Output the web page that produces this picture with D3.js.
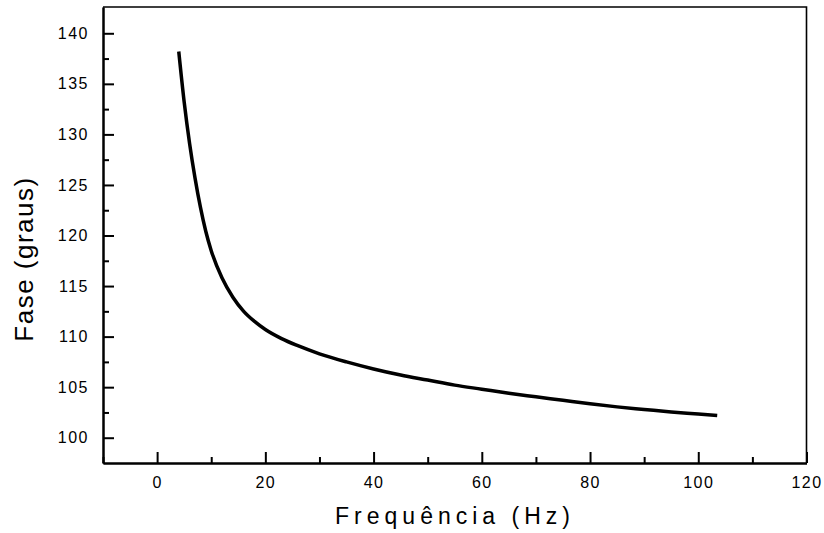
<!DOCTYPE html>
<html lang="pt">
<head>
<meta charset="utf-8">
<title>Fase x Frequencia</title>
<style type="text/css">
    body {
        margin: 0;
        background-color: #fff;
    }
    svg {
        display: block;
        background-color: white;
    }
    .axis text {
        font-family: Arial, "Liberation Sans", sans-serif;
        font-size: 16px;
        letter-spacing: 1.5px;
        fill: #000;
    }
    .axis path, .axis line {
        stroke: #000;
        stroke-width: 2px;
    }
    .axisLabel {
        font-family: Arial, "Liberation Sans", sans-serif;
        fill: #000;
    }
</style>
<script src="https://d3js.org/d3.v7.min.js"></script>
</head>
<body>
<div id="chart"></div>
<script>

// frequency (Hz) and phase (degrees)
var freq  = [4, 5, 6, 7, 8, 9, 10, 12, 14, 16, 18, 20, 23, 26, 30, 35, 40, 45, 50, 55,
             60, 65, 70, 75, 80, 85, 90, 95, 100, 103.5];
var phase = [138.2, 133.2, 129.1, 125.7, 122.8, 120.4, 118.5, 115.8, 113.9, 112.5, 111.5, 110.7,
             109.8, 109.1, 108.3, 107.5, 106.8, 106.2, 105.7, 105.2,
             104.8, 104.4, 104.05, 103.7, 103.35, 103.05, 102.8, 102.55, 102.35, 102.2];

var xMajor = [0, 20, 40, 60, 80, 100, 120];
var xMinor = [-10, 10, 30, 50, 70, 90, 110];
var yMajor = [100, 105, 110, 115, 120, 125, 130, 135, 140];
var yMinor = [102.5, 107.5, 112.5, 117.5, 122.5, 127.5, 132.5, 137.5];

var width = 824, height = 533;
var margin = { top: 7, right: 17.5, bottom: 70, left: 103 };

var svg = d3.select('#chart')
    .append('svg')
    .attr('width', width)
    .attr('height', height);

var xScale = d3.scaleLinear()
    .domain([-10, 120])
    .range([margin.left, width - margin.right]);

var yScale = d3.scaleLinear()
    .domain([97.5, 142.6])
    .range([height - margin.bottom, margin.top]);

// top and right frame
svg.append('path')
    .attr('d', 'M' + xScale(-10) + ',' + yScale(142.6) +
               'H' + xScale(120) + 'V' + yScale(97.5))
    .attr('fill', 'none')
    .attr('stroke', '#000')
    .attr('stroke-width', 1.6);

// minor ticks first, then major with labels
svg.append('g')
    .attr('class', 'axis')
    .attr('transform', 'translate(0,' + yScale(97.5) + ')')
    .call(d3.axisBottom(xScale).tickValues(xMinor).tickSizeInner(-6).tickSizeOuter(0).tickFormat(''));

svg.append('g')
    .attr('class', 'axis')
    .attr('transform', 'translate(' + xScale(-10) + ',0)')
    .call(d3.axisLeft(yScale).tickValues(yMinor).tickSizeInner(-6).tickSizeOuter(0).tickFormat(''));

svg.append('g')
    .attr('class', 'axis')
    .attr('transform', 'translate(0,' + yScale(97.5) + ')')
    .call(d3.axisBottom(xScale).tickValues(xMajor).tickSizeInner(-11).tickSizeOuter(0).tickPadding(13.5));

svg.append('g')
    .attr('class', 'axis')
    .attr('transform', 'translate(' + xScale(-10) + ',0)')
    .call(d3.axisLeft(yScale).tickValues(yMajor).tickSizeInner(-11).tickSizeOuter(0).tickPadding(14));

// the curve
var line = d3.line()
    .x(function(d, i) { return xScale(freq[i]); })
    .y(function(d) { return yScale(d); })
    .curve(d3.curveMonotoneX);

svg.append('path')
    .datum(phase)
    .attr('d', line)
    .attr('fill', 'none')
    .attr('stroke', '#000')
    .attr('stroke-width', 3.5)
    .attr('stroke-linejoin', 'round');

// axis titles
svg.append('text')
    .attr('class', 'axisLabel')
    .attr('x', 455)
    .attr('y', 524)
    .attr('text-anchor', 'middle')
    .style('font-size', '23px')
    .style('letter-spacing', '5px')
    .text('Frequência (Hz)');

svg.append('text')
    .attr('class', 'axisLabel')
    .attr('transform', 'translate(33,259) rotate(-90)')
    .attr('text-anchor', 'middle')
    .style('font-size', '26px')
    .style('letter-spacing', '1.5px')
    .text('Fase (graus)');

</script>
</body>
</html>
